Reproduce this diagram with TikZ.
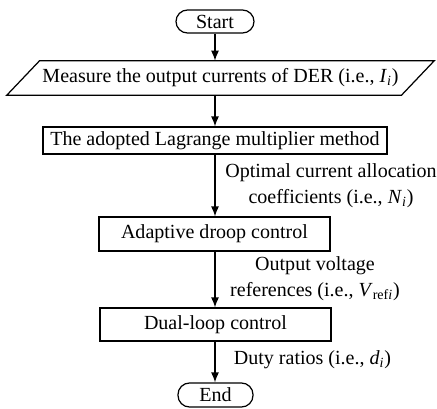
\documentclass[tikz,border=0pt]{standalone}
\usepackage{fontspec}
\setmainfont{Liberation Serif}
\usepackage{tikz}
\usetikzlibrary{arrows,arrows.meta,positioning}
\usetikzlibrary{calc}

\begin{document}
\begin{tikzpicture}[
    font=\fontsize{11.4}{13.6}\selectfont,
    box/.style={rectangle, draw, line width=0.7pt, inner sep=1pt},
    term/.style={rectangle, draw, line width=0.7pt, rounded corners=2.3mm, inner sep=1pt},
    io/.style={rectangle, inner sep=1pt},
    note/.style={align=center, font=\fontsize{11.4}{14.8}\selectfont},
    arrow/.style={line width=0.7pt,->,>={Latex[length=2mm,width=1.6mm]}}
]
\useasboundingbox (0,0) rectangle (8.74,-8.16);
\node[term, minimum width=1.56cm, minimum height=0.46cm] (start) at (4.30,-0.43) {Start};
\node[io, minimum width=7.88cm, minimum height=0.68cm] (meas) at (4.41,-1.56)
    {Measure the output currents of DER (i.e., \textit{I}\textsubscript{\textit{i}})};
\node[box, minimum width=6.88cm, minimum height=0.54cm] (lagr) at (4.30,-2.81)
    {The adopted Lagrange multiplier method};
\node[box, minimum width=4.62cm, minimum height=0.68cm] (droop) at (4.29,-4.68)
    {Adaptive droop control};
\node[box, minimum width=4.62cm, minimum height=0.66cm] (dual) at (4.31,-6.49)
    {Dual-loop control};
\node[term, minimum width=1.50cm, minimum height=0.48cm] (end) at (4.31,-7.90) {End};

% parallelogram round the input node
\draw[line width=0.7pt] ($(meas.south west)+(-0.33,0)$) -- ($(meas.north west)+(0.33,0)$)
    -- ($(meas.north east)+(0.33,0)$) -- ($(meas.south east)+(-0.33,0)$) -- cycle;

\node[note] (coef) at (6.62,-3.71)
    {Optimal current allocation\\coefficients (i.e., \textit{N}\textsubscript{\textit{i}})};
\node[note] (vref) at (6.30,-5.57)
    {Output voltage\\references (i.e., \textit{V}\textsubscript{ref\textit{i}})};
\node[note] (duty) at (6.25,-7.20)
    {Duty ratios (i.e., \textit{d}\textsubscript{\textit{i}})};

\draw[arrow] (start.south) -- (start.south |- meas.north);
\draw[arrow] (start.south |- meas.south) -- (start.south |- lagr.north);
\draw[arrow] (start.south |- lagr.south) -- (start.south |- droop.north);
\draw[arrow] (start.south |- droop.south) -- (start.south |- dual.north);
\draw[arrow] (start.south |- dual.south) -- (start.south |- end.north);
\end{tikzpicture}
\end{document}
